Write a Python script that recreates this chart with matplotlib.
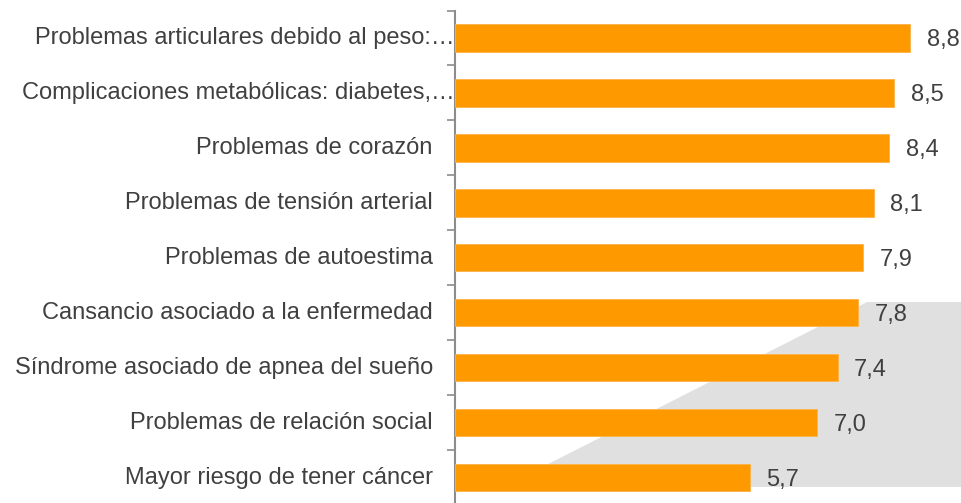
import matplotlib.pyplot as plt
from matplotlib.patches import Polygon
from matplotlib.transforms import offset_copy

# datos
categorias = [
    "Problemas articulares debido al peso:…",
    "Complicaciones metabólicas: diabetes,…",
    "Problemas de corazón",
    "Problemas de tensión arterial",
    "Problemas de autoestima",
    "Cansancio asociado a la enfermedad",
    "Síndrome asociado de apnea del sueño",
    "Problemas de relación social",
    "Mayor riesgo de tener cáncer",
]
valores = [8.8, 8.5, 8.4, 8.1, 7.9, 7.8, 7.4, 7.0, 5.7]
etiquetas = ["8,8", "8,5", "8,4", "8,1", "7,9", "7,8", "7,4", "7,0", "5,7"]
truncadas = [True, True, False, False, False, False, False, False, False]

plt.rcParams['font.family'] = ['Liberation Sans', 'DejaVu Sans']
texto = '#404040'
naranja = '#FF9900'

W, H = 961, 503
fig = plt.figure(figsize=(W / 100, H / 100), dpi=100)

# forma gris decorativa del fondo
fondo = Polygon([(503 / W, 1 - 487 / H), (867 / W, 1 - 302 / H),
                 (1.0, 1 - 302 / H), (1.0, 1 - 487 / H)],
                closed=True, transform=fig.transFigure,
                facecolor='#E0E0E0', edgecolor='none', zorder=-5)
fig.patches.append(fondo)

ax = fig.add_axes([455 / W, -2 / H, 506 / W, 494.5 / H])
ax.patch.set_alpha(0)
ax.set_zorder(1)

y = list(range(len(categorias)))
ax.barh(y, valores, height=0.5, color=naranja, edgecolor='#FFB347', linewidth=0.6, zorder=3)

ax.set_xlim(0, 506 / 51.7)
ax.set_ylim(len(categorias) - 0.5, -0.5)

for s in ['top', 'right', 'bottom']:
    ax.spines[s].set_visible(False)
ax.spines['left'].set_color('#8C8C8C')
ax.spines['left'].set_linewidth(1.5)

ax.set_xticks([])
ax.set_yticks([])
ax.set_yticks([i - 0.5 for i in range(len(categorias) + 1)], minor=True)
ax.tick_params(axis='y', which='minor', length=6, width=1.2, color='#8C8C8C', direction='out')

# etiquetas de categoria
for i, (c, t) in enumerate(zip(categorias, truncadas)):
    off = -0.5 if t else -16
    tr = offset_copy(ax.get_yaxis_transform(), fig=fig, x=off, y=0, units='points')
    ax.text(0, i, c, transform=tr, ha='right', va='center', fontsize=17, color=texto)

# valores
for i, (v, e) in enumerate(zip(valores, etiquetas)):
    ax.annotate(e, (v, i), xytext=(12, -1.5), textcoords='offset points',
                ha='left', va='center', fontsize=17, color=texto)

fig.savefig('out.png', dpi=100)
